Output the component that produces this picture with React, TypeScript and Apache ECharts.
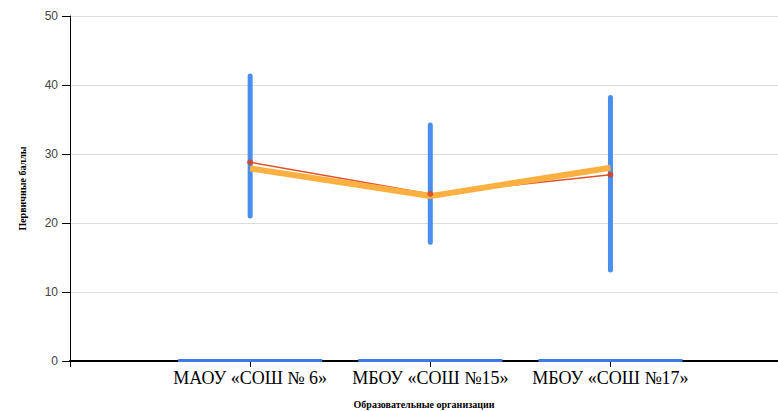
import React, { useEffect, useRef } from 'react';
import * as echarts from 'echarts';

const categories = ['МАОУ «СОШ № 6»', 'МБОУ «СОШ №15»', 'МБОУ «СОШ №17»'];
const positions = [1, 2, 3];
const minScores = [21.0, 17.2, 13.2];
const maxScores = [41.3, 34.2, 38.2];
const redValues = [28.8, 24.2, 27.0];
const orangeValues = [27.9, 23.9, 28.0];
const baseValues = [0, 0, 0];

export default function App() {
  const ref = useRef<HTMLDivElement>(null);
  useEffect(() => {
    if (!ref.current) return;
    const chart = echarts.init(ref.current, null, { renderer: 'svg' });
    const rangeData = positions.map((p, i) => [p, minScores[i], maxScores[i]]);
    const baseData = positions.map((p, i) => [p, baseValues[i]]);
    const redData = positions.map((p, i) => [p, redValues[i]]);
    const orangeData = positions.map((p, i) => [p, orangeValues[i]]);
    chart.setOption({
      animation: false,
      grid: { left: 70, right: 0, top: 16, bottom: 50, containLabel: false, outerBoundsMode: 'none' },
      xAxis: {
        type: 'value',
        min: 0,
        max: 3.93,
        interval: 1,
        name: 'Образовательные организации',
        nameLocation: 'middle',
        nameGap: 38,
        nameTextStyle: { fontFamily: 'Liberation Serif', fontWeight: 'bold', fontSize: 10, color: '#000' },
        axisLine: { show: true, onZero: false, lineStyle: { color: '#000', width: 2 } },
        axisTick: { show: true, length: 6, lineStyle: { color: '#000', width: 1 } },
        axisLabel: {
          margin: 8,
          fontFamily: 'Liberation Serif',
          fontSize: 18,
          color: '#000',
          showMaxLabel: false,
          formatter: (v: number) => {
            const i = positions.indexOf(v);
            return i >= 0 ? categories[i] : '';
          },
        },
        splitLine: { show: false },
      },
      yAxis: {
        type: 'value',
        min: 0,
        max: 50,
        interval: 10,
        name: 'Первичные баллы',
        nameLocation: 'middle',
        nameGap: 43,
        nameTextStyle: { fontFamily: 'Liberation Serif', fontWeight: 'bold', fontSize: 10, color: '#000' },
        axisLine: { show: true, lineStyle: { color: '#000', width: 1 } },
        axisTick: { show: true, length: 8, lineStyle: { color: '#000' } },
        axisLabel: { margin: 12, fontFamily: 'Liberation Sans', fontSize: 12, color: '#444' },
        splitLine: { show: true, lineStyle: { color: '#dddddd', width: 1 } },
      },
      series: [
        {
          type: 'custom',
          z: 1,
          data: baseData,
          encode: { x: 0, y: 1 },
          renderItem: (params: any, api: any) => {
            const x = api.value(0);
            const y = api.value(1);
            const c = api.coord([x, y]);
            const w = api.size([0.8, 0])[0];
            return {
              type: 'rect',
              shape: { x: c[0] - w / 2, y: c[1] - 2, width: w, height: 3 },
              style: { fill: '#3c7be6' },
            };
          },
        },
        {
          type: 'custom',
          z: 2,
          data: rangeData,
          encode: { x: 0, y: [1, 2] },
          renderItem: (params: any, api: any) => {
            const x = api.value(0);
            const lo = api.coord([x, api.value(1)]);
            const hi = api.coord([x, api.value(2)]);
            return {
              type: 'line',
              shape: { x1: lo[0], y1: lo[1], x2: hi[0], y2: hi[1] },
              style: { stroke: '#4a8ef0', lineWidth: 5, lineCap: 'round' },
            };
          },
        },
        {
          type: 'line',
          z: 3,
          data: redData,
          showSymbol: false,
          lineStyle: { color: '#e0522a', width: 1.5 },
          itemStyle: { color: '#d84315' },
        },
        {
          type: 'line',
          z: 4,
          data: orangeData,
          showSymbol: false,
          lineStyle: { color: '#fcb041', width: 6 },
          itemStyle: { color: '#fcb041' },
        },
        {
          type: 'scatter',
          z: 5,
          data: redData,
          symbolSize: 6,
          itemStyle: { color: '#d8401c' },
        },
      ],
    });
    return () => chart.dispose();
  }, []);
  return <div ref={ref} style={{ width: 778, height: 411, position: 'absolute', left: 0, top: 0 }} />;
}
